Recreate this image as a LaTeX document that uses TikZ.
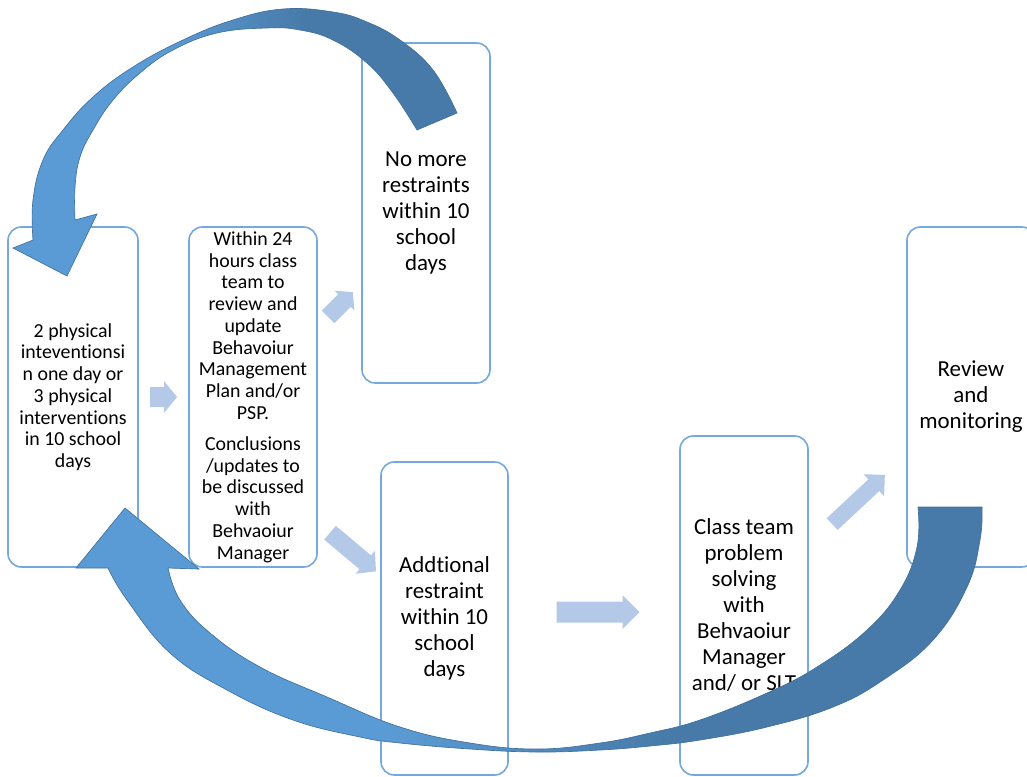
\documentclass[tikz,border=0pt]{standalone}
\usepackage{fontspec}
\setmainfont{Carlito}[Ligatures=NoCommon]
\usetikzlibrary{calc}

\definecolor{boxline}{RGB}{116,168,222}
\definecolor{flowfill}{RGB}{180,200,231}
\definecolor{looplight}{RGB}{91,155,213}
\definecolor{loopdark}{RGB}{71,122,168}
\definecolor{loopedge}{RGB}{65,113,156}
\pgfdeclarehorizontalshading{loopshade}{100bp}{color(0bp)=(looplight); color(42bp)=(looplight); color(58bp)=(loopdark); color(100bp)=(loopdark)}

% block arrow: centre, angle, length, half shaft, half head, head length
\newcommand{\flowarrow}[6]{%
  \fill[flowshape,shift={#1},rotate=#2]
    ({-#3/2},{-#4}) -- ({#3/2-#6},{-#4}) -- ({#3/2-#6},{-#5}) -- ({#3/2},0)
    -- ({#3/2-#6},{#5}) -- ({#3/2-#6},{#4}) -- ({-#3/2},{#4}) -- cycle;}

\begin{document}
\begin{tikzpicture}[
  x=0.75pt,
  y=-0.75pt,
  stagebox/.style={draw=boxline,line width=1.2pt,rounded corners=10pt,align=center,inner sep=0pt,minimum width=96pt,minimum height=255pt},
  smalltext/.style={font=\fontsize{14.9}{16.3}\selectfont},
  bigtext/.style={font=\fontsize{17.2}{19.5}\selectfont},
  flowshape/.style={fill=flowfill},
  loopshape/.style={draw=loopedge,line width=0.5pt,shade,shading=loopshade}
]
\useasboundingbox (0,0) rectangle (1027,776);
\clip (0,0) rectangle (1027,776);

% Stages
\node[stagebox,smalltext,minimum width=97.5pt] (trigger) at (73,397)
  {2 physical\\inteventionsi\\n one day or\\3 physical\\interventions\\in 10 school\\days};
\node[stagebox,smalltext] (review) at (253,397)
  {Within 24\\hours class\\team to\\review and\\update\\Behavoiur\\Management\\Plan and/or\\PSP.\\[7pt]
   Conclusions\\/updates to\\be discussed\\with\\Behvaoiur\\Manager};
\node[stagebox,bigtext] (norestraint) at (426,213)
  {No more\\restraints\\within 10\\school\\days};
\node[stagebox,bigtext,minimum width=95.25pt,minimum height=234.75pt] (further) at (444.5,618.5)
  {Addtional\\restraint\\within 10\\school\\days};
\node[stagebox,bigtext,minimum height=254.25pt] (problem) at (744,605.5)
  {Class team\\problem\\solving\\with\\Behvaoiur\\Manager\\and/ or SLT};
\node[stagebox,bigtext] (monitor) at (971,397)
  {Review\\and\\monitoring};

% Step arrows
\flowarrow{($(trigger.east)!0.5!(review.west)$)}{0}{27}{10}{16}{13}
\flowarrow{(340.5,304.5)}{45}{35}{9}{14}{12}
\flowarrow{(353,552)}{-40}{60}{9}{15}{14}
\flowarrow{($(further.east)!0.5!(problem.west)+(4,0)$)}{0}{83}{10.5}{17}{17}
\flowarrow{(858.5,499.5)}{43}{72}{8}{15}{15}

% Loop back from no more restraints
\path[loopshape]
  plot[smooth,tension=0.7] coordinates {(417,130) (393,93) (367,63) (333,40) (300,30) (267,28)
    (217,33) (173,50) (140,73) (113,100) (93,130) (80,157) (75,187) (75,220)}
  -- (97,214) -- (67,276) -- (13,248)
  -- plot[smooth,tension=0.7] coordinates {(33,240) (33,200) (43,160) (63,130) (93,97) (133,67)
    (183,40) (233,20) (283,9) (333,12) (367,22) (400,40) (433,70) (457,113)}
  -- cycle;

% Loop back from review and monitoring
\path[loopshape]
  plot[smooth,tension=0.7] coordinates {(918,507) (917,547) (900,590) (867,630) (817,667)
    (767,693) (700,720) (650,733) (600,743) (537,749) (470,743) (400,727) (327,697)
    (260,667) (210,633) (180,600) (168,568)}
  -- (199,569) -- (125,508) -- (76,568)
  -- plot[smooth,tension=0.7] coordinates {(108,568) (127,600) (170,653) (227,690) (293,720)
    (360,737) (400,743) (470,749) (537,752) (600,750) (650,746) (700,740) (767,727)
    (833,707) (883,680) (933,640) (967,587) (980,540) (982,507)}
  -- cycle;

\end{tikzpicture}
\end{document}
